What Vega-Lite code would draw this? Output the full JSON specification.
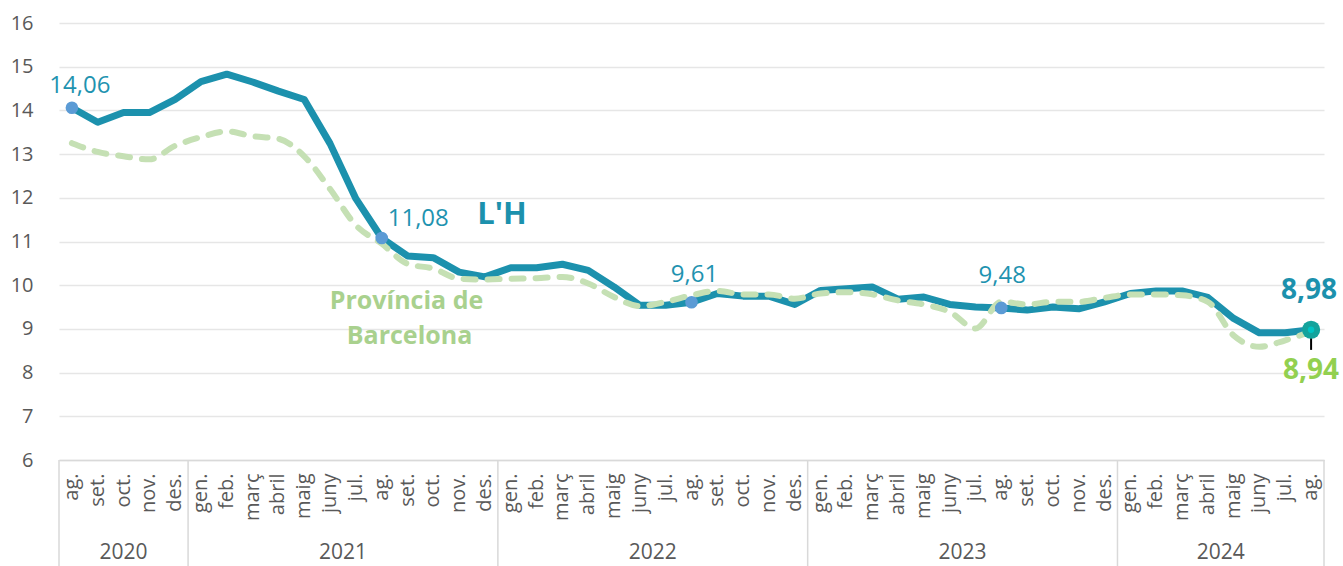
{
  "$schema": "https://vega.github.io/schema/vega-lite/v6.json",
  "width": 1265,
  "height": 437,
  "autosize": {"type": "none"},
  "padding": {"left": 59, "top": 23, "right": 19, "bottom": 106},
  "config": {
    "view": {"stroke": null},
    "font": "Open Sans",
    "locale": {"number": {"decimal": ",", "thousands": ".", "grouping": [3], "currency": ["", " €"]}},
    "axis": {"labelFont": "Open Sans", "labelColor": "#595959", "ticks": false, "tickSize": 0},
    "axisY": {"grid": true, "gridColor": "#e6e6e6", "gridWidth": 1.5, "labelFontSize": 20, "labelPadding": 26, "domain": false},
    "axisX": {"grid": false, "labelAngle": -90, "labelAlign": "right", "labelBaseline": "middle", "labelFontSize": 20, "labelPadding": 13, "domain": true, "domainColor": "#d9d9d9", "domainWidth": 1.5}
  },
  "datasets": {
    "main": [
      {"m": "2020-08", "lh": 14.06, "bcn": 13.25},
      {"m": "2020-09", "lh": 13.73, "bcn": 13.05},
      {"m": "2020-10", "lh": 13.95, "bcn": 12.95},
      {"m": "2020-11", "lh": 13.95, "bcn": 12.88},
      {"m": "2020-12", "lh": 14.25, "bcn": 13.19},
      {"m": "2021-01", "lh": 14.66, "bcn": 13.39},
      {"m": "2021-02", "lh": 14.83, "bcn": 13.52},
      {"m": "2021-03", "lh": 14.65, "bcn": 13.41},
      {"m": "2021-04", "lh": 14.44, "bcn": 13.35},
      {"m": "2021-05", "lh": 14.25, "bcn": 12.95},
      {"m": "2021-06", "lh": 13.24, "bcn": 12.2},
      {"m": "2021-07", "lh": 11.98, "bcn": 11.37},
      {"m": "2021-08", "lh": 11.08, "bcn": 10.95},
      {"m": "2021-09", "lh": 10.67, "bcn": 10.49},
      {"m": "2021-10", "lh": 10.63, "bcn": 10.38},
      {"m": "2021-11", "lh": 10.3, "bcn": 10.15},
      {"m": "2021-12", "lh": 10.19, "bcn": 10.13},
      {"m": "2022-01", "lh": 10.4, "bcn": 10.15},
      {"m": "2022-02", "lh": 10.4, "bcn": 10.16},
      {"m": "2022-03", "lh": 10.48, "bcn": 10.19},
      {"m": "2022-04", "lh": 10.34, "bcn": 10.04},
      {"m": "2022-05", "lh": 9.96, "bcn": 9.73},
      {"m": "2022-06", "lh": 9.54, "bcn": 9.52},
      {"m": "2022-07", "lh": 9.54, "bcn": 9.62},
      {"m": "2022-08", "lh": 9.61, "bcn": 9.77},
      {"m": "2022-09", "lh": 9.81, "bcn": 9.87},
      {"m": "2022-10", "lh": 9.75, "bcn": 9.79},
      {"m": "2022-11", "lh": 9.75, "bcn": 9.79},
      {"m": "2022-12", "lh": 9.56, "bcn": 9.69},
      {"m": "2023-01", "lh": 9.88, "bcn": 9.81},
      {"m": "2023-02", "lh": 9.92, "bcn": 9.84},
      {"m": "2023-03", "lh": 9.96, "bcn": 9.79},
      {"m": "2023-04", "lh": 9.68, "bcn": 9.65},
      {"m": "2023-05", "lh": 9.73, "bcn": 9.56},
      {"m": "2023-06", "lh": 9.56, "bcn": 9.39},
      {"m": "2023-07", "lh": 9.5, "bcn": 9.01},
      {"m": "2023-08", "lh": 9.48, "bcn": 9.62},
      {"m": "2023-09", "lh": 9.43, "bcn": 9.56},
      {"m": "2023-10", "lh": 9.5, "bcn": 9.62},
      {"m": "2023-11", "lh": 9.46, "bcn": 9.62},
      {"m": "2023-12", "lh": 9.62, "bcn": 9.71},
      {"m": "2024-01", "lh": 9.81, "bcn": 9.79},
      {"m": "2024-02", "lh": 9.87, "bcn": 9.79},
      {"m": "2024-03", "lh": 9.87, "bcn": 9.77},
      {"m": "2024-04", "lh": 9.72, "bcn": 9.62},
      {"m": "2024-05", "lh": 9.24, "bcn": 8.85},
      {"m": "2024-06", "lh": 8.91, "bcn": 8.59},
      {"m": "2024-07", "lh": 8.91, "bcn": 8.74},
      {"m": "2024-08", "lh": 8.98, "bcn": 8.94}
    ],
    "years": [
      {"m": "2020-10", "year": "2020", "k": "first"},
      {"m": "2021-06", "year": "2021", "k": "mid"},
      {"m": "2022-06", "year": "2022", "k": "mid"},
      {"m": "2023-06", "year": "2023", "k": "mid"},
      {"m": "2024-04", "year": "2024", "k": "mid"}
    ],
    "bounds": [
      {"m": "2020-08"},
      {"m": "2021-01"},
      {"m": "2022-01"},
      {"m": "2023-01"},
      {"m": "2024-01"}
    ]
  },
  "data": {"name": "main"},
  "layer": [
    {
      "data": {"name": "bounds"},
      "mark": {"type": "rule", "color": "#d9d9d9", "strokeWidth": 1.5},
      "encoding": {
        "x": {"field": "m", "type": "ordinal", "bandPosition": 0, "title": null},
        "y": {"datum": 6, "type": "quantitative"},
        "y2": {"datum": 3.5}
      }
    },
    {
      "data": {"values": [{"m": "2024-08"}]},
      "mark": {"type": "rule", "color": "#d9d9d9", "strokeWidth": 1.5},
      "encoding": {
        "x": {"field": "m", "type": "ordinal", "bandPosition": 1, "title": null},
        "y": {"datum": 6, "type": "quantitative"},
        "y2": {"datum": 3.5}
      }
    },
    {
      "mark": {"type": "line", "color": "#1c91ad", "strokeWidth": 7, "strokeJoin": "round"},
      "encoding": {
        "x": {"field": "m", "type": "ordinal", "title": null,
              "scale": {"type": "band", "paddingInner": 0, "paddingOuter": 0},
              "axis": {"labelExpr": "['gen.','feb.','març','abril','maig','juny','jul.','ag.','set.','oct.','nov.','des.'][toNumber(slice(datum.value,5,7))-1]"}},
        "y": {"field": "lh", "type": "quantitative", "title": null,
              "scale": {"domain": [6, 16], "nice": false, "zero": false},
              "axis": {"values": [6, 7, 8, 9, 10, 11, 12, 13, 14, 15, 16]}}
      }
    },
    {
      "mark": {"type": "line", "color": "#c5e0b4", "strokeWidth": 6, "strokeDash": [12, 12], "strokeCap": "round", "interpolate": "monotone"},
      "encoding": {
        "x": {"field": "m", "type": "ordinal", "title": null},
        "y": {"field": "bcn", "type": "quantitative", "title": null}
      }
    },
    {
      "transform": [{"filter": "indexof(['2020-08','2021-08','2022-08','2023-08'], datum.m) >= 0"}],
      "mark": {"type": "point", "filled": true, "opacity": 1, "color": "#5b9bd5", "size": 160},
      "encoding": {
        "x": {"field": "m", "type": "ordinal", "title": null},
        "y": {"field": "lh", "type": "quantitative", "title": null}
      }
    },
    {
      "transform": [{"filter": "datum.m == '2024-08'"}],
      "mark": {"type": "rule", "color": "#000000", "strokeWidth": 2},
      "encoding": {
        "x": {"field": "m", "type": "ordinal", "title": null},
        "y": {"datum": 8.92, "type": "quantitative"},
        "y2": {"datum": 8.52}
      }
    },
    {
      "transform": [{"filter": "datum.m == '2024-08'"}],
      "mark": {"type": "point", "filled": true, "opacity": 1, "color": "#13a39c", "size": 330},
      "encoding": {
        "x": {"field": "m", "type": "ordinal", "title": null},
        "y": {"field": "lh", "type": "quantitative", "title": null}
      }
    },
    {
      "transform": [{"filter": "datum.m == '2024-08'"}],
      "mark": {"type": "point", "filled": true, "opacity": 1, "color": "#00c4c4", "size": 40},
      "encoding": {
        "x": {"field": "m", "type": "ordinal", "title": null},
        "y": {"field": "lh", "type": "quantitative", "title": null}
      }
    },
    {
      "transform": [{"filter": "datum.m == '2020-08'"}],
      "mark": {"type": "text", "font": "Open Sans", "fontSize": 24, "color": "#1f93b0", "align": "center", "baseline": "alphabetic", "dx": 8, "dy": -15},
      "encoding": {
        "x": {"field": "m", "type": "ordinal", "title": null},
        "y": {"field": "lh", "type": "quantitative", "title": null},
        "text": {"field": "lh", "type": "quantitative", "format": ".2f"}
      }
    },
    {
      "transform": [{"filter": "datum.m == '2021-08'"}],
      "mark": {"type": "text", "font": "Open Sans", "fontSize": 24, "color": "#1f93b0", "align": "left", "baseline": "alphabetic", "dx": 6, "dy": -12},
      "encoding": {
        "x": {"field": "m", "type": "ordinal", "title": null},
        "y": {"field": "lh", "type": "quantitative", "title": null},
        "text": {"field": "lh", "type": "quantitative", "format": ".2f"}
      }
    },
    {
      "transform": [{"filter": "datum.m == '2022-08'"}],
      "mark": {"type": "text", "font": "Open Sans", "fontSize": 24, "color": "#1f93b0", "align": "center", "baseline": "alphabetic", "dx": 3, "dy": -20},
      "encoding": {
        "x": {"field": "m", "type": "ordinal", "title": null},
        "y": {"field": "lh", "type": "quantitative", "title": null},
        "text": {"field": "lh", "type": "quantitative", "format": ".2f"}
      }
    },
    {
      "transform": [{"filter": "datum.m == '2023-08'"}],
      "mark": {"type": "text", "font": "Open Sans", "fontSize": 24, "color": "#1f93b0", "align": "center", "baseline": "alphabetic", "dx": 1, "dy": -25},
      "encoding": {
        "x": {"field": "m", "type": "ordinal", "title": null},
        "y": {"field": "lh", "type": "quantitative", "title": null},
        "text": {"field": "lh", "type": "quantitative", "format": ".2f"}
      }
    },
    {
      "transform": [{"filter": "datum.m == '2024-08'"}],
      "mark": {"type": "text", "font": "Open Sans", "fontSize": 28, "fontWeight": "bold", "color": "#1c91ad", "align": "center", "baseline": "alphabetic", "dx": -2, "dy": -31},
      "encoding": {
        "x": {"field": "m", "type": "ordinal", "title": null},
        "y": {"field": "lh", "type": "quantitative", "title": null},
        "text": {"field": "lh", "type": "quantitative", "format": ".2f"}
      }
    },
    {
      "transform": [{"filter": "datum.m == '2024-08'"}],
      "mark": {"type": "text", "font": "Open Sans", "fontSize": 28, "fontWeight": "bold", "color": "#92d050", "align": "center", "baseline": "alphabetic", "dx": 0, "dy": 47},
      "encoding": {
        "x": {"field": "m", "type": "ordinal", "title": null},
        "y": {"field": "bcn", "type": "quantitative", "title": null},
        "text": {"field": "bcn", "type": "quantitative", "format": ".2f"}
      }
    },
    {
      "transform": [{"filter": "datum.m == '2021-12'"}],
      "mark": {"type": "text", "font": "Open Sans", "fontSize": 31, "fontWeight": "bold", "color": "#1c91ad", "align": "center", "baseline": "alphabetic", "dx": 17, "dy": -53, "text": "L'H"},
      "encoding": {
        "x": {"field": "m", "type": "ordinal", "title": null},
        "y": {"field": "lh", "type": "quantitative", "title": null}
      }
    },
    {
      "transform": [{"filter": "datum.m == '2021-09'"}],
      "mark": {"type": "text", "font": "Open Sans", "fontSize": 25, "fontWeight": "bold", "color": "#a9d18e", "align": "center", "baseline": "alphabetic", "dx": -1, "dy": 45, "text": "Província de"},
      "encoding": {
        "x": {"field": "m", "type": "ordinal", "title": null},
        "y": {"field": "bcn", "type": "quantitative", "title": null}
      }
    },
    {
      "transform": [{"filter": "datum.m == '2021-09'"}],
      "mark": {"type": "text", "font": "Open Sans", "fontSize": 25, "fontWeight": "bold", "color": "#a9d18e", "align": "center", "baseline": "alphabetic", "dx": 2, "dy": 80, "text": "Barcelona"},
      "encoding": {
        "x": {"field": "m", "type": "ordinal", "title": null},
        "y": {"field": "bcn", "type": "quantitative", "title": null}
      }
    },
    {
      "data": {"name": "years"},
      "transform": [{"filter": "datum.k == 'first'"}],
      "mark": {"type": "text", "font": "Open Sans", "fontSize": 21, "color": "#595959", "align": "center", "baseline": "alphabetic"},
      "encoding": {
        "x": {"field": "m", "type": "ordinal", "title": null},
        "y": {"datum": 3.73, "type": "quantitative"},
        "text": {"field": "year"}
      }
    },
    {
      "data": {"name": "years"},
      "transform": [{"filter": "datum.k == 'mid'"}],
      "mark": {"type": "text", "font": "Open Sans", "fontSize": 21, "color": "#595959", "align": "center", "baseline": "alphabetic"},
      "encoding": {
        "x": {"field": "m", "type": "ordinal", "bandPosition": 1, "title": null},
        "y": {"datum": 3.73, "type": "quantitative"},
        "text": {"field": "year"}
      }
    }
  ]
}
